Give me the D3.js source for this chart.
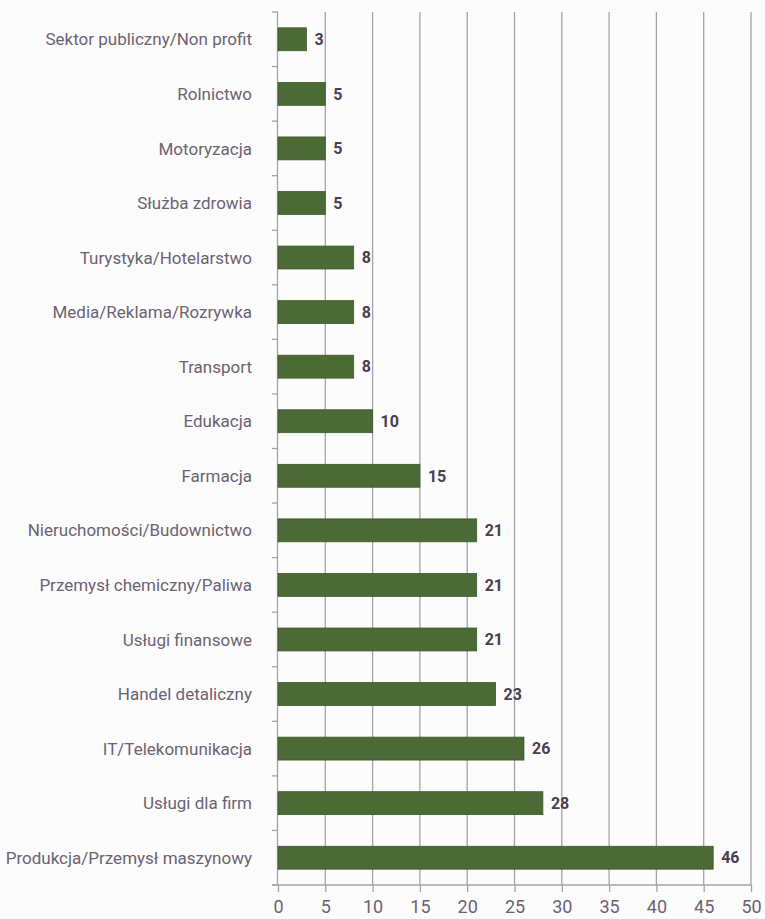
<!DOCTYPE html>
<html><head><meta charset="utf-8">
<script src="https://cdn.jsdelivr.net/npm/d3@7"></script>
<style>
html,body{margin:0;padding:0;background:#fdfcfd;}
svg{display:block;}
</style></head>
<body>
<svg id="chart" width="765" height="919"></svg>
<script>
const categories = [
  "Sektor publiczny/Non profit",
  "Rolnictwo",
  "Motoryzacja",
  "Służba zdrowia",
  "Turystyka/Hotelarstwo",
  "Media/Reklama/Rozrywka",
  "Transport",
  "Edukacja",
  "Farmacja",
  "Nieruchomości/Budownictwo",
  "Przemysł chemiczny/Paliwa",
  "Usługi finansowe",
  "Handel detaliczny",
  "IT/Telekomunikacja",
  "Usługi dla firm",
  "Produkcja/Przemysł maszynowy"
];
const values = [3, 5, 5, 5, 8, 8, 8, 10, 15, 21, 21, 21, 23, 26, 28, 46];
const xTicks = [0, 5, 10, 15, 20, 25, 30, 35, 40, 45, 50];

const svg = d3.select("#chart");
const x = d3.scaleLinear().domain([0, 50]).range([278, 751]);
const y = d3.scaleBand().domain(categories).range([12, 885]).paddingInner(0.58).paddingOuter(0.29);

const textColor = "#6b6370";
const gridColor = "#a5a2a8";
const font = "'Liberation Sans Narrow', 'Roboto', sans-serif";

// grid lines
svg.append("g").selectAll("line").data(xTicks.slice(1)).join("line")
  .attr("x1", d => x(d)).attr("x2", d => x(d))
  .attr("y1", 12).attr("y2", 885)
  .attr("stroke", gridColor).attr("stroke-width", 1.3);

// left axis line
svg.append("line").attr("x1", x(0) - 0.5).attr("x2", x(0) - 0.5).attr("y1", 12).attr("y2", 885)
  .attr("stroke", gridColor).attr("stroke-width", 1.3);

// left axis ticks at band boundaries
const bounds = categories.map(c => y(c) - y.step() * y.paddingInner() / 2);
bounds.push(885);
bounds[0] = 12;
svg.append("g").selectAll("line").data(bounds).join("line")
  .attr("x1", x(0) - 6).attr("x2", x(0))
  .attr("y1", d => d).attr("y2", d => d)
  .attr("stroke", gridColor).attr("stroke-width", 1.3);

// bottom axis
const xAxis = d3.axisBottom(x).tickValues(xTicks).tickSize(7).tickPadding(6).tickSizeOuter(0);
const gx = svg.append("g").attr("transform", "translate(0,885)").call(xAxis);
gx.select(".domain").remove();
gx.append("line").attr("x1", x(0) - 6).attr("x2", x(50)).attr("y1", 0).attr("y2", 0)
  .attr("stroke", gridColor).attr("stroke-width", 1.3);
gx.selectAll(".tick line").attr("stroke", gridColor).attr("stroke-width", 1.3);
gx.selectAll(".tick text").attr("fill", textColor).attr("font-size", 18)
  .attr("font-family", font).attr("y", 28).attr("dy", 0);

// bars
svg.append("g").selectAll("rect").data(values).join("rect")
  .attr("x", x(0)).attr("y", (d, i) => y(categories[i]))
  .attr("width", d => x(d) - x(0)).attr("height", y.bandwidth())
  .attr("fill", "#4b6a35").attr("stroke", "#3e5a2c").attr("stroke-width", 0.8);

// value labels
svg.append("g").selectAll("text").data(values).join("text")
  .attr("x", d => x(d) + 8).attr("y", (d, i) => y(categories[i]) + y.bandwidth() / 2)
  .attr("dy", "0.36em").attr("fill", "#4b3f4e").attr("font-weight", "bold")
  .attr("font-size", 16).attr("font-family", font)
  .text(d => d);

// category labels
svg.append("g").selectAll("text").data(categories).join("text")
  .attr("x", 252).attr("y", d => y(d) + y.bandwidth() / 2)
  .attr("dy", "0.36em").attr("text-anchor", "end")
  .attr("fill", textColor).attr("font-size", 17).attr("font-family", font)
  .text(d => d);
</script>
</body></html>
